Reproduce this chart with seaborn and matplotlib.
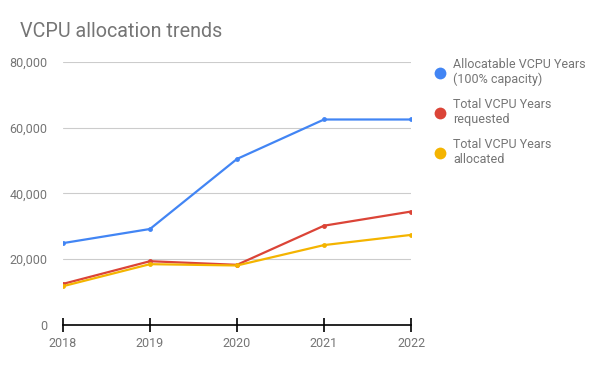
import pandas as pd
import numpy as np
import seaborn as sns
import matplotlib.pyplot as plt
from matplotlib.lines import Line2D
from matplotlib.ticker import FuncFormatter

# values
years = [2018, 2019, 2020, 2021, 2022]
allocatable = [24900, 29200, 50500, 62500, 62500]
requested = [12500, 19400, 18300, 30200, 34500]
allocated = [11800, 18500, 18100, 24300, 27400]

series_names = ["Allocatable VCPU Years\n(100% capacity)",
                "Total VCPU Years\nrequested",
                "Total VCPU Years\nallocated"]
colors = ["#4285F4", "#DB4437", "#F4B400"]
y_ticks = [0, 20000, 40000, 60000, 80000]

df = pd.DataFrame({
    "year": years * 3,
    "value": allocatable + requested + allocated,
    "series": [series_names[0]] * 5 + [series_names[1]] * 5 + [series_names[2]] * 5,
})

sns.set_theme(style="white")
plt.rcParams["font.family"] = ["Roboto", "DejaVu Sans"]

fig = plt.figure(figsize=(6, 3.71), dpi=100)
ax = fig.add_axes([0.105, 0.124, 0.58, 0.709])

sns.lineplot(data=df, x="year", y="value", hue="series", palette=colors,
             marker="o", markersize=3.5, markeredgewidth=0, linewidth=1.6,
             legend=False, ax=ax)

ax.set_xlim(2018, 2022)
ax.set_ylim(0, 80000)
ax.set_yticks(y_ticks)
ax.set_xticks(years)
ax.yaxis.set_major_formatter(FuncFormatter(lambda v, p: f"{int(v):,}"))
ax.grid(axis="y", color="#cccccc", linewidth=0.8)
ax.set_axisbelow(True)
for s in ["top", "right", "left"]:
    ax.spines[s].set_visible(False)
ax.spines["bottom"].set_color("black")
ax.spines["bottom"].set_linewidth(1.2)
ax.tick_params(axis="x", bottom=True, direction="inout", length=10, width=1.2,
               color="black", labelcolor="#757575", labelsize=9, pad=4)
ax.tick_params(axis="y", left=False, labelcolor="#757575", labelsize=9, pad=5)
ax.set_xlabel("")
ax.set_ylabel("")

fig.text(0.033, 0.915, "VCPU allocation trends", fontsize=14.2, color="#757575",
         ha="left", va="center")

handles = [Line2D([], [], marker="o", linestyle="none", markersize=8.5,
                  markerfacecolor=c, markeredgewidth=0) for c in colors]
fig.legend(handles, series_names, loc="upper left", bbox_to_anchor=(0.712, 0.858),
           frameon=False, fontsize=9, labelcolor="#757575", handletextpad=0.5,
           labelspacing=0.95, handlelength=1.2, borderaxespad=0)

fig.savefig("out.png", dpi=100)
